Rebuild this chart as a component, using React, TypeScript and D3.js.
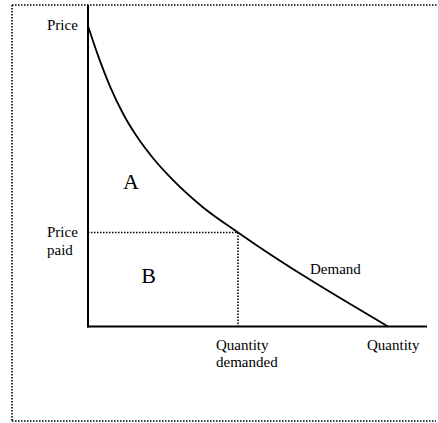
import React from 'react'
import * as d3 from 'd3'

// demand curve (quantity, price)
const quantities = [0, 0.33, 0.73, 1.17, 1.63, 2.17, 2.73, 3.83, 5.0, 10]
const prices = [10, 9.03, 8.0, 7.08, 6.32, 5.6, 4.98, 3.97, 3.13, 0]

const pricePaid = 3.13
const quantityDemanded = 5.0
const qMax = 11.3
const pMax = 10.7

const font = 'Liberation Serif, Times New Roman, serif'

const App = () => {
  const width = 438
  const height = 423

  const x = d3.scaleLinear().domain([0, qMax]).range([88, 427])
  const y = d3.scaleLinear().domain([0, pMax]).range([326.5, 5])

  const pts: [number, number][] = quantities.map((q, i) => [q, prices[i]])
  const line = d3.line<[number, number]>()
    .x(d => x(d[0]))
    .y(d => y(d[1]))
    .curve(d3.curveMonotoneX)

  const dot = { stroke: '#000', strokeWidth: 1.6, strokeDasharray: '1.5 1.5', fill: 'none' }

  return (
    <svg width={width} height={height} style={{ position: 'absolute', left: 0, top: 0 }}>
      <rect width={width} height={height} fill="#fff" />
      {/* dotted frame */}
      <line x1={12} y1={5} x2={438} y2={5} {...dot} />
      <line x1={12} y1={5} x2={12} y2={421} {...dot} />
      <line x1={12} y1={421} x2={436} y2={421} {...dot} />

      {/* price paid / quantity demanded guides */}
      <line x1={x(0)} y1={y(pricePaid)} x2={x(quantityDemanded)} y2={y(pricePaid)} {...dot} />
      <line x1={x(quantityDemanded)} y1={y(pricePaid)} x2={x(quantityDemanded)} y2={y(0)} {...dot} />

      {/* axes */}
      <line x1={x(0)} y1={y(pMax)} x2={x(0)} y2={y(0) + 1} stroke="#000" strokeWidth={2} />
      <line x1={x(0) - 1} y1={y(0)} x2={x(qMax)} y2={y(0)} stroke="#000" strokeWidth={2} />

      {/* demand curve */}
      <path d={line(pts) || ''} fill="none" stroke="#000" strokeWidth={1.8} />

      <g style={{ fontFamily: font, fontSize: 15 }} fill="#000">
        <text x={47} y={29.5}>Price</text>
        <text x={47} y={236.5}>Price</text>
        <text x={47} y={255}>paid</text>
        <text x={310} y={274}>Demand</text>
        <text x={216} y={350}>Quantity</text>
        <text x={216} y={367}>demanded</text>
        <text x={367} y={350}>Quantity</text>
      </g>
      <g style={{ fontFamily: font, fontSize: 22 }} fill="#000" textAnchor="middle">
        <text x={131} y={189}>A</text>
        <text x={148.5} y={283}>B</text>
      </g>
    </svg>
  )
}

export default App
